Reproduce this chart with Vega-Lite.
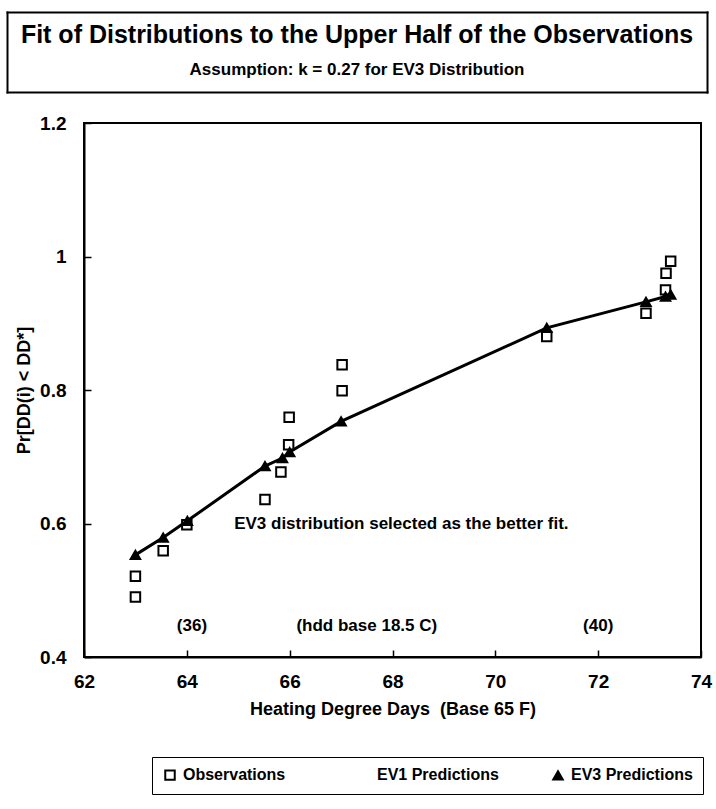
{
  "$schema": "https://vega.github.io/schema/vega-lite/v6.json",
  "background": "white",
  "padding": {"left": 7, "top": 12, "right": 5, "bottom": 5},
  "spacing": 21,
  "datasets": {
    "points": [
      {"series": "Observations", "hdd": 63.0, "pr": 0.49},
      {"series": "Observations", "hdd": 63.0, "pr": 0.521},
      {"series": "Observations", "hdd": 63.54, "pr": 0.559},
      {"series": "Observations", "hdd": 64.0, "pr": 0.598},
      {"series": "Observations", "hdd": 65.52, "pr": 0.636},
      {"series": "Observations", "hdd": 65.83, "pr": 0.677},
      {"series": "Observations", "hdd": 65.98, "pr": 0.718},
      {"series": "Observations", "hdd": 65.99, "pr": 0.759},
      {"series": "Observations", "hdd": 67.02, "pr": 0.799},
      {"series": "Observations", "hdd": 67.02, "pr": 0.838},
      {"series": "Observations", "hdd": 71.0, "pr": 0.88},
      {"series": "Observations", "hdd": 72.93, "pr": 0.915},
      {"series": "Observations", "hdd": 73.31, "pr": 0.95},
      {"series": "Observations", "hdd": 73.32, "pr": 0.975},
      {"series": "Observations", "hdd": 73.41, "pr": 0.993},
      {"series": "EV3 Predictions", "hdd": 63.0, "pr": 0.553},
      {"series": "EV3 Predictions", "hdd": 63.54, "pr": 0.579},
      {"series": "EV3 Predictions", "hdd": 64.01, "pr": 0.604},
      {"series": "EV3 Predictions", "hdd": 65.52, "pr": 0.686},
      {"series": "EV3 Predictions", "hdd": 65.86, "pr": 0.698},
      {"series": "EV3 Predictions", "hdd": 66.0, "pr": 0.707},
      {"series": "EV3 Predictions", "hdd": 67.0, "pr": 0.753},
      {"series": "EV3 Predictions", "hdd": 71.0, "pr": 0.893},
      {"series": "EV3 Predictions", "hdd": 72.93, "pr": 0.932},
      {"series": "EV3 Predictions", "hdd": 73.31, "pr": 0.94},
      {"series": "EV3 Predictions", "hdd": 73.41, "pr": 0.943}
    ],
    "notes": [
      {"note": "EV3 distribution selected as the better fit.", "hdd": 64.92, "pr": 0.6, "kind": "left"},
      {"note": "(36)", "hdd": 64.1, "pr": 0.447, "kind": "center"},
      {"note": "(hdd base 18.5 C)", "hdd": 67.5, "pr": 0.447, "kind": "center"},
      {"note": "(40)", "hdd": 72.0, "pr": 0.447, "kind": "center"}
    ],
    "titles": [
      {"line": "title", "text": "Fit of Distributions to the Upper Half of the Observations"},
      {"line": "subtitle", "text": "Assumption: k = 0.27 for EV3 Distribution"}
    ]
  },
  "vconcat": [
    {
      "width": 623,
      "height": 80,
      "view": {"stroke": null},
      "data": {"name": "titles"},
      "layer": [
        {
          "transform": [{"filter": "datum.line == 'title'"}],
          "mark": {"type": "text", "fontSize": 25, "fontWeight": "bold", "font": "Liberation Sans", "color": "black", "dy": 1},
          "encoding": {
            "x": {"datum": 0.5, "type": "quantitative",
                  "scale": {"domain": [0, 1], "range": [-77, 623]},
                  "axis": {"orient": "bottom", "labels": false, "ticks": false, "title": null, "domainCap": "square"}},
            "y": {"field": "line", "type": "nominal",
                  "scale": {"type": "point", "domain": ["title", "subtitle"], "padding": 0.6},
                  "axis": {"orient": "left", "offset": 77, "labels": false, "ticks": false, "title": null, "domainCap": "square"}},
            "text": {"field": "text"}
          }
        },
        {
          "transform": [{"filter": "datum.line == 'subtitle'"}],
          "mark": {"type": "text", "fontSize": 17, "fontWeight": "bold", "font": "Liberation Sans", "color": "black"},
          "encoding": {
            "x": {"datum": 0.5, "type": "quantitative",
                  "axis": {"orient": "top", "labels": false, "ticks": false, "title": null, "domainCap": "square"}},
            "y": {"field": "line", "type": "nominal",
                  "axis": {"orient": "right", "labels": false, "ticks": false, "title": null, "domainCap": "square"}},
            "text": {"field": "text"}
          }
        }
      ],
      "resolve": {"axis": {"x": "independent", "y": "independent"}}
    },
    {
      "width": 617,
      "height": 534,
      "encoding": {
        "x": {"field": "hdd", "type": "quantitative",
              "scale": {"domain": [62, 74], "nice": false, "zero": false},
              "axis": {"values": [62, 64, 66, 68, 70, 72, 74], "format": "d", "title": "Heating Degree Days \u00a0(Base 65 F)"}},
        "y": {"field": "pr", "type": "quantitative",
              "scale": {"domain": [0.4, 1.2], "nice": false, "zero": false},
              "axis": {"values": [0.4, 0.6, 0.8, 1, 1.2], "format": "~g", "title": "Pr[DD(i) < DD*]"}}
      },
      "layer": [
        {
          "data": {"name": "points"},
          "transform": [{"filter": "datum.series == 'EV3 Predictions'"}],
          "mark": {"type": "line", "color": "black", "strokeWidth": 3}
        },
        {
          "data": {"name": "points"},
          "mark": {"type": "point", "size": 90, "strokeWidth": 2, "opacity": 1},
          "encoding": {
            "shape": {"field": "series", "type": "nominal",
                      "scale": {"domain": ["Observations", "EV1 Predictions", "EV3 Predictions"], "range": ["square", "square", "triangle-up"]},
                      "legend": {"title": null}},
            "fill": {"field": "series", "type": "nominal",
                     "scale": {"domain": ["Observations", "EV1 Predictions", "EV3 Predictions"], "range": ["white", "transparent", "black"]},
                     "legend": {"title": null}},
            "stroke": {"field": "series", "type": "nominal",
                       "scale": {"domain": ["Observations", "EV1 Predictions", "EV3 Predictions"], "range": ["black", "transparent", "black"]},
                       "legend": {"title": null}}
          }
        },
        {
          "data": {"name": "notes"},
          "transform": [{"filter": "datum.kind == 'left'"}],
          "mark": {"type": "text", "align": "left", "fontSize": 17, "fontWeight": "bold", "font": "Liberation Sans", "color": "black"},
          "encoding": {"text": {"field": "note"}}
        },
        {
          "data": {"name": "notes"},
          "transform": [{"filter": "datum.kind == 'center'"}],
          "mark": {"type": "text", "align": "center", "fontSize": 17, "fontWeight": "bold", "font": "Liberation Sans", "color": "black"},
          "encoding": {"text": {"field": "note"}}
        }
      ]
    }
  ],
  "config": {
    "view": {"stroke": "black", "strokeWidth": 2},
    "font": "Liberation Sans",
    "axis": {
      "grid": false, "labelFlush": false,
      "domainColor": "black", "domainWidth": 2,
      "tickColor": "black", "tickWidth": 1.5, "tickSize": -7,
      "labelFont": "Liberation Sans", "labelFontSize": 19, "labelFontWeight": "bold", "labelColor": "black",
      "titleFont": "Liberation Sans", "titleFontSize": 18, "titleFontWeight": "bold", "titleColor": "black"
    },
    "axisX": {"labelPadding": 22, "titlePadding": 9},
    "axisY": {"labelPadding": 25, "titlePadding": 6},
    "legend": {
      "orient": "none", "legendX": 68, "legendY": 745,
      "direction": "horizontal",
      "strokeColor": "black", "padding": 10,
      "gridAlign": "all", "columnPadding": 50,
      "symbolSize": 90, "symbolStrokeWidth": 2,
      "labelFont": "Liberation Sans", "labelFontSize": 16, "labelFontWeight": "bold", "labelColor": "black",
      "labelOffset": 5
    }
  }
}
